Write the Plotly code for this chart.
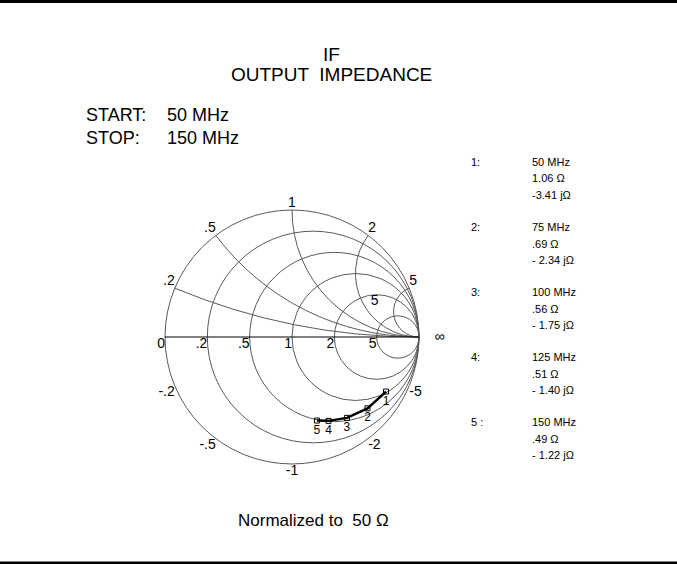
import plotly.graph_objects as go

# measured impedance, normalized to 50 ohm
marker_ids = ["1", "2", "3", "4", "5"]
marker_names = ["1:", "2:", "3:", "4:", "5 :"]
freq_mhz = [50, 75, 100, 125, 150]
res_norm = [1.06, 0.69, 0.56, 0.51, 0.49]
react_norm = [-3.41, -2.34, -1.75, -1.40, -1.22]

# smith grid and labels
grid_vals = [0.2, 0.5, 1, 2, 5]
real_lbl_vals = [0, 0.2, 0.5, 1, 2, 5]
real_lbl_text = ["0", ".2", ".5", "1", "2", "5"]
imag_lbl_vals = [0.2, 0.5, 1, 2, 5, -0.2, -0.5, -1, -2, -5]
imag_lbl_text = [".2", ".5", "1", "2", "5", "-.2", "-.5", "-1", "-2", "-5"]
imag_lbl_pos = ["top left", "top left", "top center", "top right", "top right",
                "bottom left", "bottom left", "bottom center", "bottom right", "bottom right"]

W, H = 677, 564
FONT = "Liberation Sans, Arial, sans-serif"
GRID = "#5a5a5a"

fig = go.Figure()

# real axis labels
fig.add_trace(go.Scattersmith(
    real=real_lbl_vals, imag=[0] * len(real_lbl_vals),
    mode="text", text=real_lbl_text, textposition="bottom left",
    textfont=dict(family=FONT, size=14, color="black"),
    cliponaxis=False, hoverinfo="skip", showlegend=False))

# reactance labels round the rim
fig.add_trace(go.Scattersmith(
    real=[0] * len(imag_lbl_vals), imag=imag_lbl_vals,
    mode="text", text=imag_lbl_text, textposition=imag_lbl_pos,
    textfont=dict(family=FONT, size=14, color="black"),
    cliponaxis=False, hoverinfo="skip", showlegend=False))

# stray "5" inside the chart and the infinity sign
fig.add_trace(go.Scattersmith(
    real=[2.5, 1e9], imag=[2.8, 0],
    mode="text", text=["5", "    ∞"], textposition=["middle center", "middle right"],
    textfont=dict(family=FONT, size=14, color="black"),
    cliponaxis=False, hoverinfo="skip", showlegend=False))

# impedance trace
fig.add_trace(go.Scattersmith(
    real=res_norm, imag=react_norm,
    mode="lines+markers+text", text=marker_ids, textposition="bottom center",
    textfont=dict(family=FONT, size=12, color="black"),
    line=dict(color="black", width=2.5),
    marker=dict(symbol="square-open", size=5, color="black", line=dict(width=1)),
    cliponaxis=False, showlegend=False))

fig.update_layout(
    width=W, height=H,
    margin=dict(l=0, r=0, t=0, b=0),
    paper_bgcolor="white",
    showlegend=False,
    smith=dict(
        bgcolor="white",
        domain=dict(x=[165 / W, 419 / W], y=[1 - 464 / H, 1 - 210 / H]),
        realaxis=dict(tickvals=grid_vals, showticklabels=False, ticks="",
                      gridcolor=GRID, gridwidth=1, linecolor="black", linewidth=1),
        imaginaryaxis=dict(tickvals=grid_vals, showticklabels=False, ticks="",
                           gridcolor=GRID, gridwidth=1, linecolor=GRID, linewidth=1),
    ),
)

annos = []
# title, two lines
annos.append(dict(x=331 / W, y=1 - 55 / H, text="IF"))
annos.append(dict(x=331 / W, y=1 - 74 / H, text="OUTPUT  IMPEDANCE"))
for a in annos:
    a.update(xref="paper", yref="paper", showarrow=False, xanchor="center", yanchor="middle",
             font=dict(family=FONT, size=19, color="black"))

# sweep range
for txt, yy in [("START:", 115), ("STOP:", 137.5)]:
    annos.append(dict(x=84 / W, y=1 - yy / H, text=txt, xanchor="left"))
for txt, yy in [("50 MHz", 115), ("150 MHz", 137.5)]:
    annos.append(dict(x=165 / W, y=1 - yy / H, text=txt, xanchor="left"))
for a in annos[2:]:
    a.update(xref="paper", yref="paper", showarrow=False, yanchor="middle",
             font=dict(family=FONT, size=18, color="black"))

# marker read-outs on the right
small = dict(family=FONT, size=11, color="black")
for i, f in enumerate(freq_mhz):
    y0 = 162 + i * 65
    r_txt = f"{res_norm[i]:.2f}".lstrip("0") + " Ω"
    x_val = f"{abs(react_norm[i]):.2f}"
    x_txt = ("-" if i == 0 else "- ") + x_val + " jΩ"
    annos.append(dict(x=469 / W, y=1 - y0 / H, text=marker_names[i], xanchor="left"))
    for k, line in enumerate([f"{f} MHz", r_txt, x_txt]):
        annos.append(dict(x=530 / W, y=1 - (y0 + k * 16.5) / H, text=line, xanchor="left"))
for a in annos[6:]:
    a.update(xref="paper", yref="paper", showarrow=False, yanchor="middle", font=small)

annos.append(dict(x=313 / W, y=1 - 520 / H, text="Normalized to  50 Ω", xref="paper", yref="paper",
                  showarrow=False, xanchor="center", yanchor="middle",
                  font=dict(family=FONT, size=17, color="black")))
fig.update_layout(annotations=annos)

# black rules at top and bottom
fig.add_shape(type="line", xref="paper", yref="paper", x0=0, x1=1, y0=1 - 1.5 / H, y1=1 - 1.5 / H,
              line=dict(color="black", width=3))
fig.add_shape(type="line", xref="paper", yref="paper", x0=0, x1=1, y0=1 / H, y1=1 / H,
              line=dict(color="black", width=3))

# page has a default body margin; drop it so the figure sits at the window corner
fig.write_html("out.html", config={"displayModeBar": False},
               post_script="document.body.style.margin='0';")
